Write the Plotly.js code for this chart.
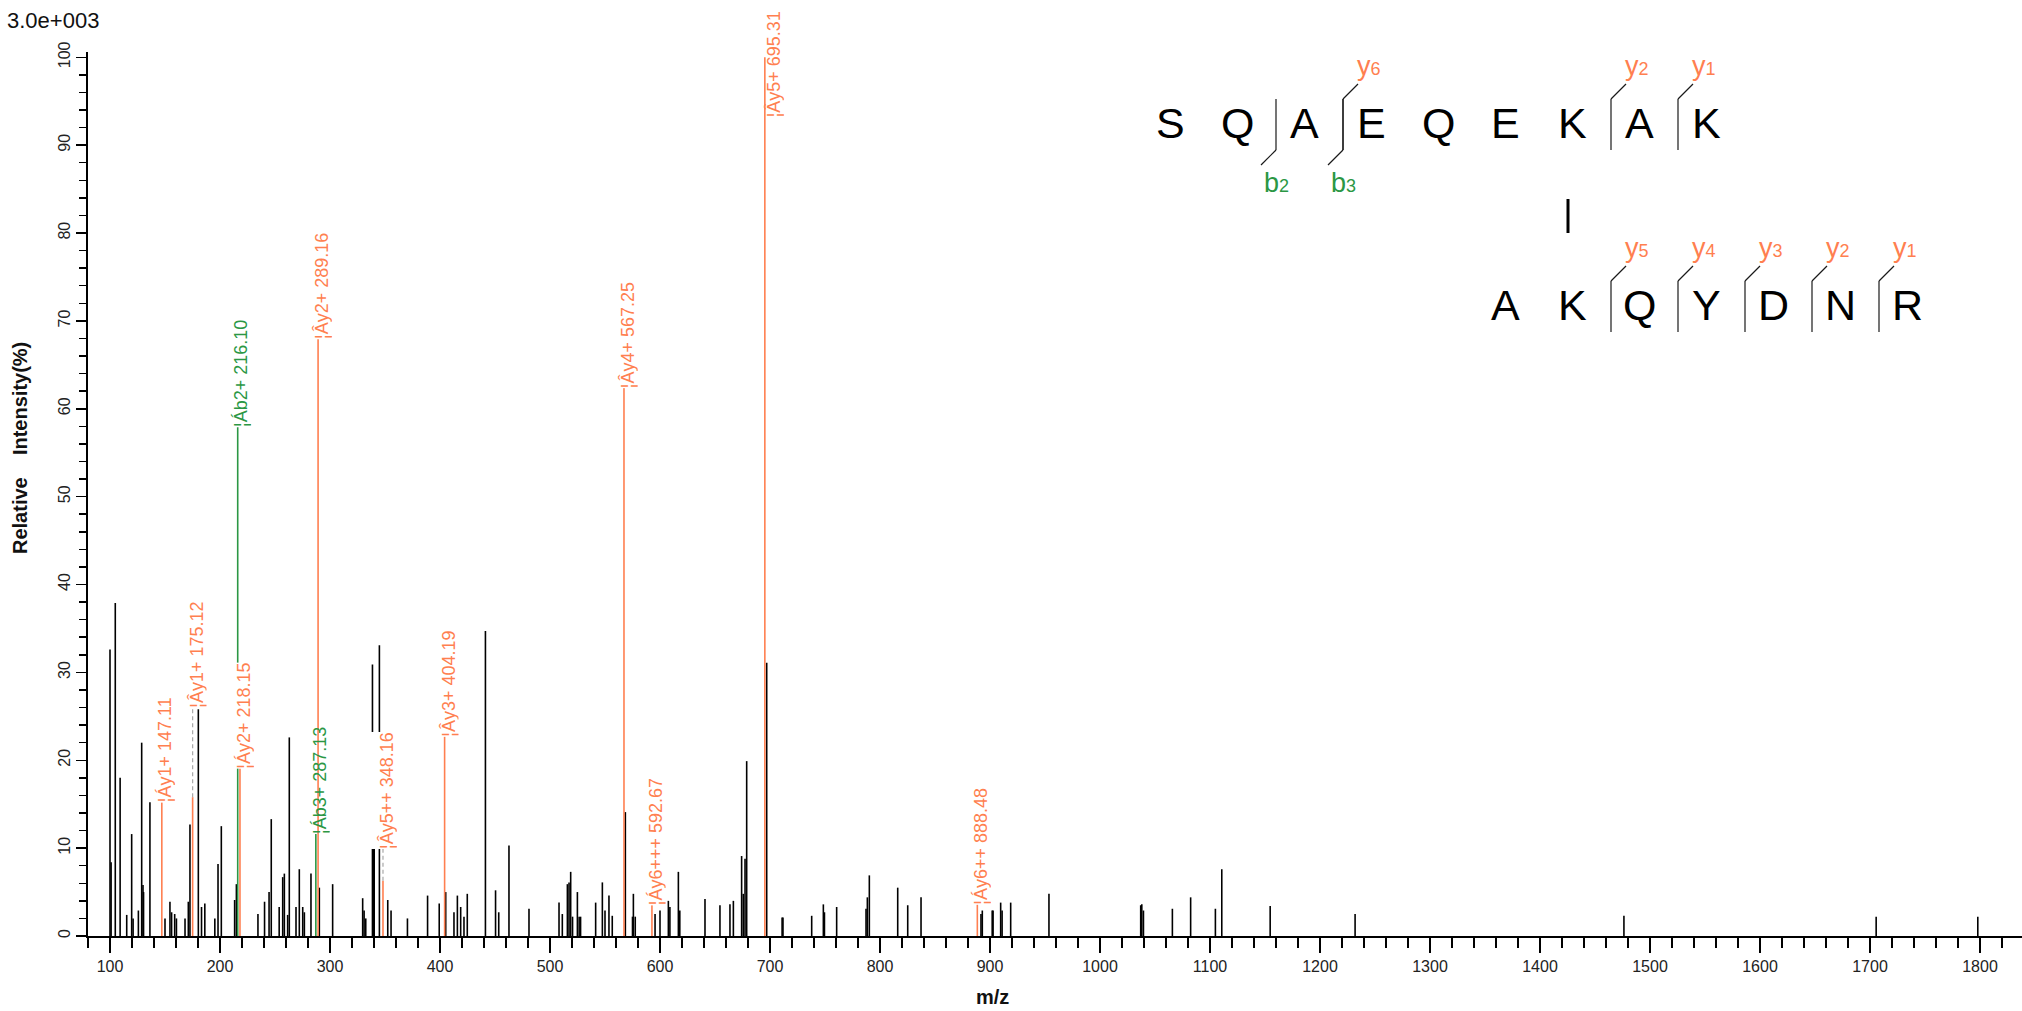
<!DOCTYPE html>
<html>
<head>
<meta charset="utf-8">
<script src="https://cdn.plot.ly/plotly-3.0.1.min.js"></script>
<style>
  html, body { margin: 0; padding: 0; background: #ffffff; }
  #chart { width: 2022px; height: 1011px; }
</style>
</head>
<body>
<div id="chart"></div>
<script>
// ---------------- DATA ----------------
// Unassigned peaks (m/z, relative intensity %)
const peakMz = [
  100.0, 101.0, 104.8, 109.2, 115.2, 119.7, 121.0, 125.8, 128.8, 130.0, 130.5, 136.3,
  150.0, 154.5, 156.0, 158.8, 160.4, 168.2, 171.2, 172.7, 180.3, 183.2, 186.2,
  195.3, 198.2, 201.2, 213.3, 214.9, 234.5, 240.5, 244.6, 246.6, 253.8, 257.0, 258.5,
  261.5, 263.0, 269.1, 272.1, 275.2, 276.7, 282.7, 290.3, 302.4, 329.7, 331.0, 332.5,
  338.6, 339.4, 340.2, 344.9, 352.5, 355.5, 370.4, 388.7, 399.3, 405.2, 412.7, 415.8,
  418.8, 421.8, 424.8, 441.3, 450.5, 453.4, 462.7, 480.9, 508.2, 511.2, 515.8, 517.3,
  518.8, 520.5, 524.9, 526.5, 527.8, 541.5, 547.6, 550.0, 553.6, 556.6, 568.5, 575.0,
  575.8, 577.5, 595.5, 600.0, 607.6, 609.0, 616.7, 618.0, 640.9, 654.5, 663.6, 666.7,
  674.2, 675.7, 677.3, 678.8, 697.0, 711.0, 711.8, 737.9, 748.5, 749.5, 760.6, 787.3,
  788.5, 790.3, 816.1, 825.2, 837.3, 891.8, 893.0, 902.0, 902.8, 909.7, 911.0, 918.8,
  953.6, 1037.0, 1038.0, 1039.5, 1065.8, 1082.4, 1104.9, 1110.7, 1154.7, 1231.9,
  1476.3, 1705.6, 1798.0
];
const peakIntensity = [
  32.6, 8.4, 37.9, 18.0, 2.4, 11.6, 2.0, 2.9, 22.0, 5.8, 5.0, 21.3,
  2.0, 3.9, 2.7, 2.5, 2.0, 2.0, 3.9, 12.7, 25.8, 3.3, 3.7,
  2.0, 8.2, 12.5, 4.1, 5.9, 2.5, 3.9, 5.0, 13.3, 3.3, 6.7, 7.1,
  2.4, 22.6, 3.3, 7.6, 3.3, 2.7, 7.1, 5.5, 5.9, 4.3, 2.9, 2.0,
  30.9, 11.0, 10.5, 33.1, 4.1, 2.9, 2.0, 4.6, 3.7, 5.0, 2.7, 4.6,
  3.3, 2.2, 4.8, 34.7, 5.2, 2.7, 10.3, 3.1, 3.8, 2.5, 5.9, 6.1,
  7.3, 2.2, 5.0, 2.2, 2.2, 3.8, 6.1, 2.9, 4.6, 2.3, 14.1, 2.2,
  4.8, 2.2, 2.5, 2.9, 4.0, 3.3, 7.3, 2.9, 4.2, 3.5, 3.6, 4.0,
  9.1, 4.8, 8.8, 19.9, 31.1, 2.1, 2.1, 2.3, 3.6, 2.7, 3.3, 3.1,
  4.4, 6.9, 5.5, 3.5, 4.4, 2.5, 2.9, 2.9, 2.9, 3.8, 2.9, 3.8,
  4.8, 3.5, 3.6, 2.9, 3.1, 4.4, 3.1, 7.6, 3.4, 2.5,
  2.3, 2.2, 2.2
];

// Assigned fragment ions
const ionMz        = [147.11, 175.12, 216.10, 218.15, 287.13, 289.16, 348.16, 404.19, 567.25, 592.67, 695.31, 888.48];
const ionIntensity = [15.2,   15.8,   57.9,   19.1,   11.6,   67.9,   6.3,    22.7,   62.4,   3.5,    100.0,  3.6];
const ionLabelBase = [15.2,   26.0,   57.9,   19.1,   11.6,   67.9,   9.9,    22.7,   62.4,   3.5,    93.2,   3.6];
const ionName      = ['¦Áy1+', '¦Ây1+', '¦Áb2+', '¦Áy2+', '¦Áb3+', '¦Ây2+', '¦Ây5++', '¦Ây3+', '¦Ây4+', '¦Áy6+++', '¦Ây5+', '¦Áy6++'];
const ionSeries    = ['y', 'y', 'b', 'y', 'b', 'y', 'y', 'y', 'y', 'y', 'y', 'y'];

// Cross-linked peptide pair
const alphaSeq   = ['S', 'Q', 'A', 'E', 'Q', 'E', 'K', 'A', 'K'];
const betaSeq    = ['A', 'K', 'Q', 'Y', 'D', 'N', 'R'];
const alphaYIons = [6, 2, 1];
const alphaBIons = [2, 3];
const betaYIons  = [5, 4, 3, 2, 1];
const alphaLinkSite = 7;   // 1-based residue (K)
const betaLinkSite  = 2;   // 1-based residue (K)

// Axis ticks
const xTickVals = [100, 200, 300, 400, 500, 600, 700, 800, 900, 1000, 1100, 1200, 1300, 1400, 1500, 1600, 1700, 1800];
const yTickVals = [0, 10, 20, 30, 40, 50, 60, 70, 80, 90, 100];
const intensityScaleText = '3.0e+003';

// ---------------- STYLE / LAYOUT ----------------
const FONT = '"Liberation Sans", Arial, Helvetica, sans-serif';
const ORANGE = '#FF7F50';
const GREEN = '#2B9744';
const W = 2022, H = 1011;
const M = { l: 88, r: 0, t: 52, b: 75 };
const PW = W - M.l - M.r, PH = H - M.t - M.b;
const X_MIN = 80, PX_PER_MZ = 1.1;
const X_MAX = X_MIN + PW / PX_PER_MZ;
const Y_MAX = 100.6;

const px2x = p => (p - M.l) / PW;          // page px -> paper x
const px2y = p => (M.t + PH - p) / PH;     // page px -> paper y

function sticks(mz, inten) {
  const x = [], y = [];
  mz.forEach((m, i) => { x.push(m, m, null); y.push(0, inten[i], null); });
  return { x, y };
}

const traces = [];
const blk = sticks(peakMz, peakIntensity);
traces.push({ type: 'scatter', mode: 'lines', x: blk.x, y: blk.y, line: { color: '#000', width: 1.6 }, hoverinfo: 'skip', showlegend: false });

['y', 'b'].forEach(s => {
  const mz = [], it = [];
  ionMz.forEach((m, i) => { if (ionSeries[i] === s) { mz.push(m); it.push(ionIntensity[i]); } });
  const d = sticks(mz, it);
  traces.push({ type: 'scatter', mode: 'lines', x: d.x, y: d.y, line: { color: s === 'b' ? GREEN : ORANGE, width: 1.6 }, hoverinfo: 'skip', showlegend: false });
});

// dashed connectors where the label sits above the peak
(function () {
  const x = [], y = [];
  ionMz.forEach((m, i) => {
    if (ionLabelBase[i] > ionIntensity[i]) { x.push(m, m, null); y.push(ionIntensity[i], ionLabelBase[i], null); }
  });
  traces.push({ type: 'scatter', mode: 'lines', x, y, line: { color: '#A8A8A8', width: 1.2, dash: '4px,3px' }, hoverinfo: 'skip', showlegend: false });
})();

const annotations = [];
const shapes = [];

// peak labels
const LABEL_SIZE = 18, LABEL_BOX = 27;
ionMz.forEach((m, i) => {
  const side = ionLabelBase[i] < ionIntensity[i];
  const crossed = ionMz.some((m2, j) => j > i && Math.abs(m2 - m) < 12 && ionIntensity[j] > ionLabelBase[i]);
  annotations.push({
    x: m, y: ionLabelBase[i], xref: 'x', yref: 'y',
    text: ionName[i] + ' ' + m.toFixed(2),
    textangle: -90, showarrow: false,
    xanchor: 'center', yanchor: 'bottom',
    height: LABEL_BOX, valign: 'bottom',
    borderpad: 0, borderwidth: 0,
    bgcolor: (side || crossed) ? 'rgba(255,255,255,0)' : '#ffffff',
    xshift: side ? 5.5 : 0.5,
    font: { family: FONT, size: LABEL_SIZE, color: ionSeries[i] === 'b' ? GREEN : ORANGE }
  });
});

// peptide diagram
const D = { x0: 1170, step: 67, rowA: 123, rowB: 305, barUp: 24, barDown: 27, slant: 15 };
const alphaX = i => D.x0 + i * D.step;
const betaX = j => alphaX(alphaLinkSite - 1) + (j - (betaLinkSite - 1)) * D.step;
const barOffset = -28;

function letter(ch, cx, cy) {
  annotations.push({ xref: 'paper', yref: 'paper', x: px2x(cx), y: px2y(cy), text: ch, showarrow: false,
    xanchor: 'center', yanchor: 'middle', font: { family: FONT, size: 43, color: '#000' } });
}
function seg(x0, y0, x1, y1, w, c) {
  shapes.push({ type: 'line', xref: 'paper', yref: 'paper', x0: px2x(x0), y0: px2y(y0), x1: px2x(x1), y1: px2y(y1),
    line: { color: c || '#1a1a1a', width: w || 1.2 } });
}
function ionTag(prefix, n, x, y, anchor, color) {
  annotations.push({ xref: 'paper', yref: 'paper', x: px2x(x), y: px2y(y), showarrow: false,
    text: prefix + '<span style="font-size:18px">' + n + '</span>',
    xanchor: anchor, yanchor: 'middle', font: { family: FONT, size: 27, color } });
}
function yCleave(barX, rowY, n) {
  const top = rowY - D.barUp, bot = rowY + D.barDown;
  seg(barX, top, barX, bot);
  seg(barX, top, barX + D.slant, top - D.slant);
  ionTag('y', n, barX + D.slant - 3, rowY - 57, 'left', ORANGE);
}
function bCleave(barX, rowY, n) {
  const top = rowY - D.barUp, bot = rowY + D.barDown;
  seg(barX, top, barX, bot);
  seg(barX, bot, barX - D.slant, bot + D.slant);
  ionTag('b', n, barX, rowY + 60, 'center', GREEN);
}

alphaSeq.forEach((ch, i) => letter(ch, alphaX(i), D.rowA));
betaSeq.forEach((ch, j) => letter(ch, betaX(j), D.rowB));
alphaYIons.forEach(n => yCleave(alphaX(alphaSeq.length - n) + barOffset, D.rowA, n));
alphaBIons.forEach(n => bCleave(alphaX(n) + barOffset, D.rowA, n));
betaYIons.forEach(n => yCleave(betaX(betaSeq.length - n) + barOffset, D.rowB, n));
// cross-link
seg(alphaX(alphaLinkSite - 1) - 4, D.rowA + 76, alphaX(alphaLinkSite - 1) - 4, D.rowB - 72, 3, '#000');

// titles / scale text
annotations.push({ xref: 'paper', yref: 'paper', x: px2x(20), y: px2y(448), text: '<b>Relative\u00A0\u00A0\u00A0\u00A0Intensity(%)</b>',
  textangle: -90, showarrow: false, xanchor: 'center', yanchor: 'middle', font: { family: FONT, size: 20, color: '#111' } });
annotations.push({ xref: 'paper', yref: 'paper', x: px2x(992), y: px2y(997), text: '<b>m/z</b>',
  showarrow: false, xanchor: 'center', yanchor: 'middle', font: { family: FONT, size: 20, color: '#111' } });
annotations.push({ xref: 'paper', yref: 'paper', x: px2x(5), y: px2y(21), text: intensityScaleText,
  showarrow: false, xanchor: 'left', yanchor: 'middle', font: { family: FONT, size: 22, color: '#111' } });

const layout = {
  width: W, height: H,
  margin: M,
  paper_bgcolor: '#ffffff', plot_bgcolor: '#ffffff',
  showlegend: false, hovermode: false,
  font: { family: FONT, color: '#222' },
  xaxis: {
    range: [X_MIN, X_MAX], tickmode: 'array', tickvals: xTickVals, ticktext: xTickVals.map(String),
    ticks: 'outside', ticklen: 15, tickwidth: 1.5, tickcolor: '#000',
    minor: { tickmode: 'linear', tick0: 0, dtick: 20, ticks: 'outside', ticklen: 10, tickwidth: 1.5, tickcolor: '#000' },
    showline: true, linecolor: '#000', linewidth: 1.6, showgrid: false, zeroline: false,
    tickfont: { family: FONT, size: 16, color: '#222' }
  },
  yaxis: {
    range: [0, Y_MAX], tickmode: 'array', tickvals: yTickVals, ticktext: yTickVals.map(String),
    ticks: 'outside', ticklen: 10, tickwidth: 1.5, tickcolor: '#000', tickangle: -90,
    minor: { tickmode: 'linear', tick0: 0, dtick: 2, ticks: 'outside', ticklen: 7, tickwidth: 1.5, tickcolor: '#000' },
    showline: true, linecolor: '#000', linewidth: 1.6, showgrid: false, zeroline: false,
    tickfont: { family: FONT, size: 16, color: '#222' }
  },
  annotations, shapes
};

Plotly.newPlot('chart', traces, layout, { staticPlot: true, displayModeBar: false });
</script>
</body>
</html>
